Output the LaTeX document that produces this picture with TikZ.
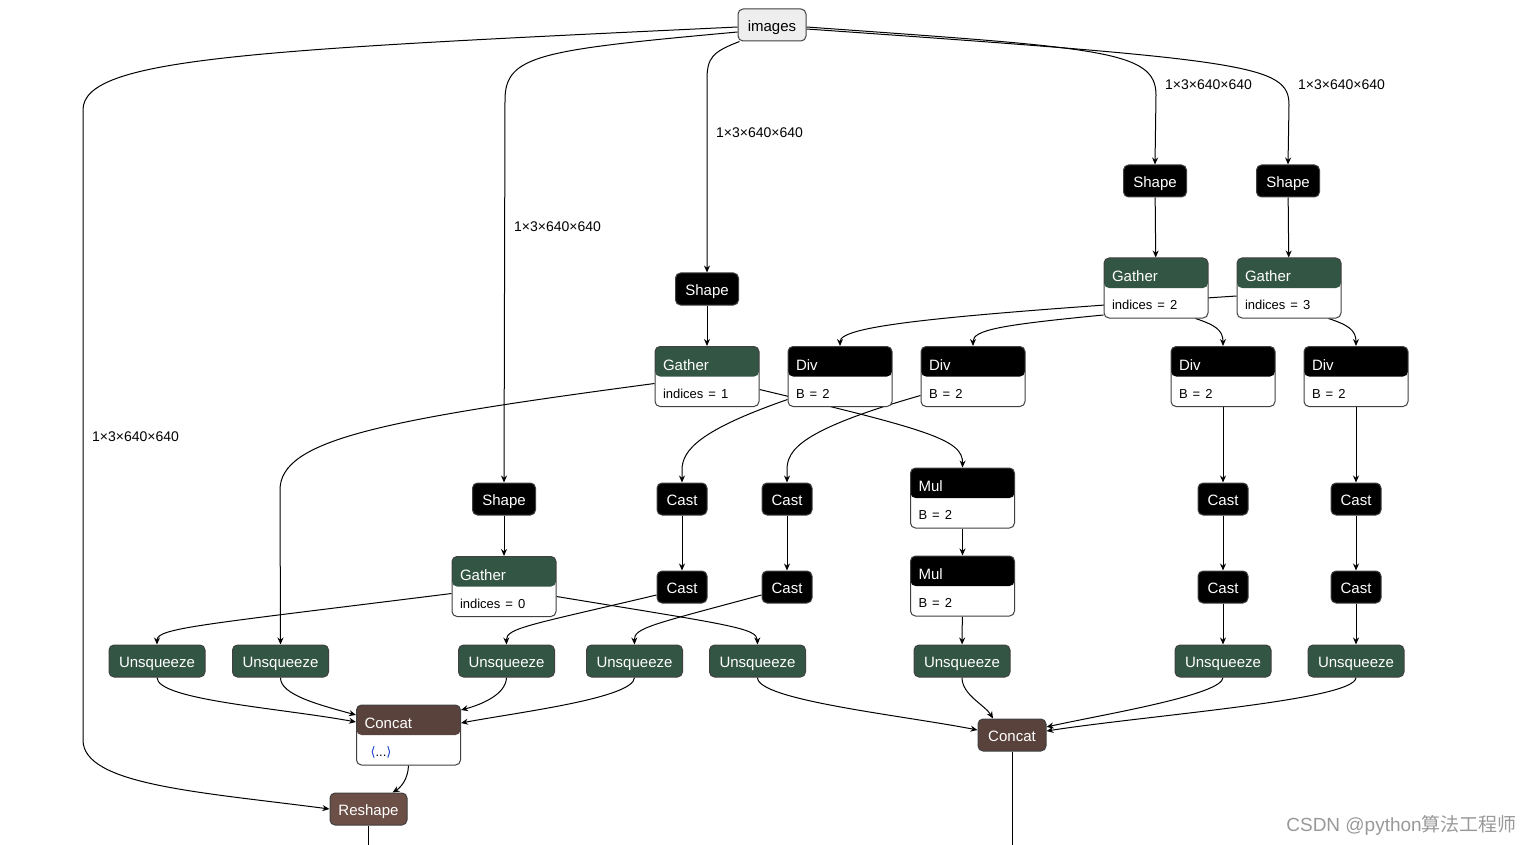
\documentclass[tikz,border=0pt]{standalone}
\usepackage{fontspec}
\setmainfont{Liberation Sans}
\newfontfamily\cjk{Noto Sans CJK SC}
\newfontfamily\symbfont{DejaVu Sans}
\usetikzlibrary{arrows.meta,backgrounds}
\definecolor{transcol}{RGB}{51,85,68}
\definecolor{tensorcol}{RGB}{89,66,59}
\definecolor{shapecol}{RGB}{108,79,71}
\definecolor{inputcol}{RGB}{238,238,238}
\definecolor{listcol}{RGB}{20,60,200}
\newcommand{\attrfont}{\color{black}\fontsize{13}{28}\selectfont}
\newcommand{\toprule}{\rule{0pt}{18pt}}
\newcommand{\botrule}{\rule[-3pt]{0pt}{3pt}}
\begin{document}
\begin{tikzpicture}[x=1pt,y=-1pt,
  >={Stealth[length=7pt,width=6pt]},
  op/.style={rectangle, rounded corners=5pt, draw=black!75, line width=1pt, fill=black, text=white, font=\fontsize{15}{18}\selectfont, minimum height=32pt, inner sep=0pt, text height=12.5pt, text depth=0pt},
  input/.style={op, fill=inputcol, text=black},
  opattr/.style={rectangle, rounded corners=5pt, draw=black!75, line width=1pt, fill=white, text=white, font=\fontsize{15}{28}\selectfont, minimum height=60pt, text width=88pt, align=left, inner xsep=8pt, inner ysep=0pt, path picture={\fill[#1] (path picture bounding box.north west) rectangle ([yshift=-30pt]path picture bounding box.north east);}},
  edgeline/.style={->, line width=1pt, black},
  plainline/.style={line width=1pt, black},
  lbl/.style={anchor=west, font=\fontsize{14}{16}\selectfont, inner sep=0pt},
  wmark/.style={font=\fontsize{19}{21}\selectfont, text=black!40, inner sep=0pt}]
\path[use as bounding box] (0,0) rectangle (1532,845);
% inputs and shapes
\node[input, minimum width=68pt] (images) at (772,25) {images};
\node[op, minimum width=63pt] (shp1) at (707,289) {Shape};
\node[op, minimum width=63pt] (shp2) at (504,499) {Shape};
\node[op, minimum width=63pt] (shp3) at (1155,181) {Shape};
\node[op, minimum width=63pt] (shp4) at (1288,181) {Shape};
\node[opattr=transcol] (gat0) at (504,586.5) {\toprule Gather\\{\attrfont indices = 0\botrule}};
\node[opattr=transcol] (gat1) at (707,376.5) {\toprule Gather\\{\attrfont indices = 1\botrule}};
\node[opattr=transcol] (gat2) at (1156,288) {\toprule Gather\\{\attrfont indices = 2\botrule}};
\node[opattr=transcol] (gat3) at (1289,288) {\toprule Gather\\{\attrfont indices = 3\botrule}};
% div, mul, cast
\node[opattr=black] (div1) at (840,376.5) {\toprule Div\\{\attrfont B = 2\botrule}};
\node[opattr=black] (div2) at (973,376.5) {\toprule Div\\{\attrfont B = 2\botrule}};
\node[opattr=black] (div3) at (1223,376.5) {\toprule Div\\{\attrfont B = 2\botrule}};
\node[opattr=black] (div4) at (1356,376.5) {\toprule Div\\{\attrfont B = 2\botrule}};
\node[opattr=black] (mul1) at (962.5,498) {\toprule Mul\\{\attrfont B = 2\botrule}};
\node[opattr=black] (mul2) at (962.5,586) {\toprule Mul\\{\attrfont B = 2\botrule}};
\node[op, minimum width=50pt] (cast1a) at (682,499) {Cast};
\node[op, minimum width=50pt] (cast1b) at (682,587) {Cast};
\node[op, minimum width=50pt] (cast2a) at (787,499) {Cast};
\node[op, minimum width=50pt] (cast2b) at (787,587) {Cast};
\node[op, minimum width=50pt] (cast3a) at (1223,499) {Cast};
\node[op, minimum width=50pt] (cast3b) at (1223,587) {Cast};
\node[op, minimum width=50pt] (cast4a) at (1356,499) {Cast};
\node[op, minimum width=50pt] (cast4b) at (1356,587) {Cast};
% unsqueeze row
\node[op, fill=transcol, minimum width=96pt] (unsq1) at (157,661) {Unsqueeze};
\node[op, fill=transcol, minimum width=96pt] (unsq2) at (280.5,661) {Unsqueeze};
\node[op, fill=transcol, minimum width=96pt] (unsq3) at (506.5,661) {Unsqueeze};
\node[op, fill=transcol, minimum width=96pt] (unsq4) at (634.5,661) {Unsqueeze};
\node[op, fill=transcol, minimum width=96pt] (unsq5) at (757.5,661) {Unsqueeze};
\node[op, fill=transcol, minimum width=96pt] (unsq6) at (962,661) {Unsqueeze};
\node[op, fill=transcol, minimum width=96pt] (unsq7) at (1223,661) {Unsqueeze};
\node[op, fill=transcol, minimum width=96pt] (unsq8) at (1356,661) {Unsqueeze};
% concat, reshape
\node[opattr=tensorcol] (concat1) at (408.5,735) {\toprule Concat\\{\attrfont\hspace{6pt}{\symbfont\color{listcol}⟨}...{\symbfont\color{listcol}⟩}\botrule}};
\node[op, fill=tensorcol, minimum width=68pt] (concat2) at (1012,735) {Concat};
\node[op, fill=shapecol, minimum width=77pt] (reshape) at (368.5,809) {Reshape};
\coordinate (out1) at (368.5,845);
\coordinate (out2) at (1012,845);
% tensor labels
\node[lbl] (lbl1) at (92,437) {1×3×640×640};
\node[lbl] (lbl2) at (514,227) {1×3×640×640};
\node[lbl] (lbl3) at (716,133) {1×3×640×640};
\node[lbl] (lbl4) at (1165,85) {1×3×640×640};
\node[lbl] (lbl5) at (1298,85) {1×3×640×640};
\node[wmark, anchor=east] (wm) at (1517,825) {CSDN @python{\cjk 算法工程师}};
\begin{pgfonlayer}{background}
\draw[edgeline] ([yshift=-2pt]images.west) .. controls (250,50) and (83,58) .. (83,110) -- (83,740) .. controls (83,785) and (200,792) .. (reshape.west);
\draw[edgeline] ([yshift=-7pt]images.west) .. controls (540,50) and (505,55) .. (505,100) -- (shp2.north);
\draw[edgeline] ([xshift=2pt]images.south west) .. controls (712,52) and (707,58) .. (707,80) -- (shp1.north);
\draw[edgeline] ([yshift=-2pt]images.east) .. controls (1100,48) and (1156,50) .. (1156,95) -- (shp3.north);
\draw[edgeline] ([yshift=-4pt]images.east) .. controls (1250,60) and (1289,65) .. (1289,105) -- (shp4.north);
\path[edgeline] (shp1) edge (gat1);
\path[edgeline] (shp2) edge (gat0);
\path[edgeline] (shp3) edge (gat2);
\path[edgeline] (shp4) edge (gat3);
\draw[edgeline] ([yshift=-7pt]gat1.west) .. controls (380,420) and (280,440) .. (280,490) -- (unsq2.north);
\draw[edgeline] ([yshift=-13pt]gat1.east) .. controls (930,430) and (963,440) .. (mul1.north);
\draw[edgeline] ([yshift=-8pt]gat3.west) .. controls (950,315) and (840,325) .. (div1.north);
\draw[edgeline] ([yshift=-27pt]gat2.west) .. controls (1000,325) and (973,330) .. (div2.north);
\draw[edgeline] ([xshift=-13pt]gat2.south east) .. controls (1215,325) and (1223,330) .. (div3.north);
\draw[edgeline] ([xshift=-13pt]gat3.south east) .. controls (1348,325) and (1356,330) .. (div4.north);
\draw[edgeline] ([yshift=-23pt]div1.west) .. controls (700,430) and (682,450) .. (682,470) -- (cast1a.north);
\draw[edgeline] ([yshift=-19pt]div2.west) .. controls (800,430) and (787,450) .. (787,470) -- (cast2a.north);
\path[edgeline] (div3) edge (cast3a);
\path[edgeline] (div4) edge (cast4a);
\path[edgeline] (cast1a) edge (cast1b);
\path[edgeline] (cast2a) edge (cast2b);
\path[edgeline] (cast3a) edge (cast3b);
\path[edgeline] (cast4a) edge (cast4b);
\path[edgeline] (mul1) edge (mul2);
\draw[edgeline] ([yshift=-8pt]cast1b.west) .. controls (530,625) and (506,628) .. (unsq3.north);
\draw[edgeline] ([yshift=-8pt]cast2b.west) .. controls (650,625) and (634,628) .. (unsq4.north);
\draw[edgeline] ([yshift=-7pt]gat0.west) .. controls (200,625) and (157,628) .. (unsq1.north);
\draw[edgeline] ([yshift=-10pt]gat0.east) .. controls (730,625) and (757,628) .. (unsq5.north);
\path[edgeline] (mul2) edge (unsq6);
\path[edgeline] (cast3b) edge (unsq7);
\path[edgeline] (cast4b) edge (unsq8);
\draw[edgeline] (unsq1.south) .. controls (157,700) and (280,708) .. ([yshift=13pt]concat1.west);
\draw[edgeline] (unsq2.south) .. controls (280,695) and (320,705) .. ([yshift=20pt]concat1.west);
\draw[edgeline] (unsq3.south) .. controls (506,695) and (480,705) .. ([yshift=25pt]concat1.east);
\draw[edgeline] (unsq4.south) .. controls (634,698) and (520,712) .. ([yshift=12pt]concat1.east);
\draw[edgeline] (concat1.south) .. controls (408,780) and (400,788) .. ([xshift=24pt]reshape.north);
\draw[plainline] (reshape.south) -- (out1);
\draw[edgeline] (unsq5.south) .. controls (757,700) and (900,715) .. ([yshift=5pt]concat2.west);
\draw[edgeline] (unsq6.south) .. controls (962,695) and (985,705) .. ([xshift=-19pt]concat2.north);
\draw[edgeline] (unsq7.south) .. controls (1223,695) and (1100,715) .. ([yshift=8pt]concat2.east);
\draw[edgeline] (unsq8.south) .. controls (1356,700) and (1150,715) .. ([yshift=4pt]concat2.east);
\draw[plainline] (concat2.south) -- (out2);
\end{pgfonlayer}
\end{tikzpicture}
\end{document}
